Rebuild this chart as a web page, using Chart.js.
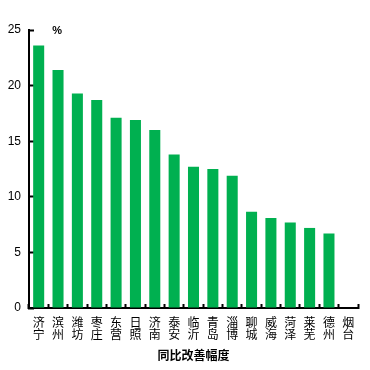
<!DOCTYPE html>
<html lang="zh">
<head>
    <meta charset="UTF-8">
    <title>同比改善幅度</title>
    <script src="https://cdn.jsdelivr.net/npm/chart.js"></script>
    <style>
        html, body { margin: 0; padding: 0; background: #fff; }
        #wrap { width: 370px; height: 370px; }
    </style>
</head>
<body>
    <div id="wrap"><canvas id="improveChart" width="370" height="370"></canvas></div>
    <script>
        // cities, two characters stacked per label
        const cities = [['济','宁'], ['滨','州'], ['潍','坊'], ['枣','庄'], ['东','营'], ['日','照'],
            ['济','南'], ['泰','安'], ['临','沂'], ['青','岛'], ['淄','博'], ['聊','城'],
            ['威','海'], ['菏','泽'], ['莱','芜'], ['德','州'], ['烟','台']];
        const improvement = [23.6, 21.4, 19.3, 18.7, 17.1, 16.9, 16.0, 13.8, 12.7, 12.5, 11.9,
            8.65, 8.1, 7.7, 7.2, 6.7, null];
        const yTicks = [0, 5, 10, 15, 20, 25];

        // "%" unit marker above the axis
        const unitLabel = {
            id: 'unitLabel',
            afterDraw(chart) {
                const ctx = chart.ctx;
                const x = chart.scales.x.getPixelForValue(1) - 1;
                ctx.save();
                ctx.font = 'bold 11px "Liberation Sans", Arial, sans-serif';
                ctx.fillStyle = '#000';
                ctx.textAlign = 'center';
                ctx.textBaseline = 'middle';
                ctx.fillText('%', x, chart.chartArea.top + 1);
                ctx.restore();
            }
        };

        const ctx = document.getElementById('improveChart').getContext('2d');
        new Chart(ctx, {
            type: 'bar',
            data: {
                labels: cities,
                datasets: [{
                    label: '同比改善幅度',
                    data: improvement,
                    backgroundColor: '#00B050',
                    borderWidth: 0,
                    barPercentage: 0.57,
                    categoryPercentage: 1
                }]
            },
            options: {
                responsive: false,
                animation: false,
                layout: { padding: { top: 30, right: 12, left: 0, bottom: 0 } },
                plugins: {
                    legend: { display: false },
                    tooltip: { enabled: false }
                },
                scales: {
                    x: {
                        afterFit: (scale) => { scale.height = 62; },
                        grid: {
                            offset: true,
                            drawOnChartArea: false,
                            tickLength: -4,
                            tickWidth: 2,
                            tickColor: '#000'
                        },
                        border: { color: '#000', width: 2 },
                        ticks: {
                            color: '#000',
                            padding: 12,
                            maxRotation: 0,
                            autoSkip: false,
                            font: { family: '"Noto Sans CJK SC", sans-serif', size: 12, lineHeight: 1.02 }
                        },
                        title: {
                            display: true,
                            text: '同比改善幅度',
                            color: '#000',
                            font: { family: '"Noto Sans CJK SC", sans-serif', size: 12, weight: 'bold' },
                            padding: { top: 0, bottom: 7 }
                        }
                    },
                    y: {
                        min: 0,
                        max: 25,
                        afterFit: (scale) => { scale.width = 29; },
                        afterBuildTicks: (scale) => { scale.ticks = yTicks.map(v => ({ value: v })); },
                        grid: {
                            drawOnChartArea: false,
                            tickLength: -5,
                            tickWidth: 2,
                            tickColor: '#000'
                        },
                        border: { color: '#000', width: 2 },
                        ticks: {
                            color: '#000',
                            padding: 13,
                            font: { family: '"Liberation Sans", Arial, sans-serif', size: 12 }
                        }
                    }
                }
            },
            plugins: [unitLabel]
        });
    </script>
</body>
</html>
